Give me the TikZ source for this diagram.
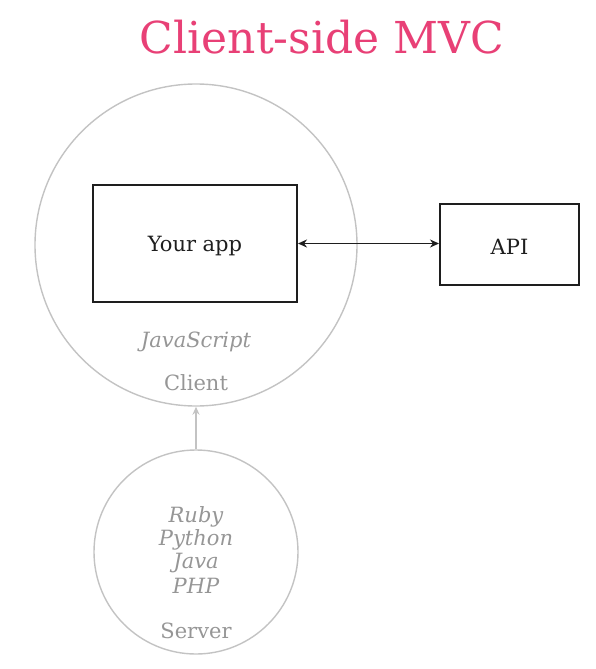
\documentclass[tikz,border=0pt]{standalone}
\usepackage{fontspec}
\setmainfont{DejaVu Serif}
\usetikzlibrary{arrows.meta}
\definecolor{pink}{RGB}{232,64,118}
\definecolor{ringgray}{RGB}{195,195,195}
\definecolor{txtgray}{RGB}{150,150,150}
\definecolor{ink}{RGB}{30,30,30}
\tikzset{
  ring/.style={circle,draw=ringgray,line width=1.4pt,inner sep=0pt},
  appbox/.style={draw=ink,line width=2pt,inner sep=0pt},
  lbl/.style={font=\fontsize{21}{24}\selectfont,text=ink},
  glbl/.style={font=\fontsize{21}{24}\selectfont,text=txtgray},
  gital/.style={font=\fontsize{21}{24}\selectfont\itshape,text=txtgray},
}
\begin{document}
\begin{tikzpicture}[x=1pt,y=-1pt]
\useasboundingbox (0,0) rectangle (596,669);
\node[font=\fontsize{44}{48}\selectfont,text=pink] (title) at (322,37) {Client-side MVC};
\node[ring,minimum size=322pt] (client) at (196,245) {};
\node[ring,minimum size=204pt] (server) at (196,552) {};
\node[appbox,minimum width=204pt,minimum height=117pt] (app) at (195,243.5) {};
\node[lbl] at ([yshift=-3pt]app.center) {Your app};
\node[appbox,minimum width=139pt,minimum height=81pt] (api) at (509.5,244.5) {};
\node[lbl] at ([yshift=-2pt]api.center) {API};
\draw[ink,line width=1.5pt,{Stealth[length=9pt,width=8pt]}-{Stealth[length=9pt,width=8pt]}] (app.east) -- (app.east -| api.west);
\node[gital] (js) at (196,342) {JavaScript};
\node[glbl] (cl) at (196,383) {Client};
\node[gital] (ruby) at (196,517) {Ruby};
\node[gital] (py) at (196,540) {Python};
\node[gital] (java) at (196,563) {Java};
\node[gital] (php) at (196,586) {PHP};
\node[glbl] (srv) at (196,631) {Server};
\draw[ringgray,line width=1.4pt,-{Stealth[length=8pt,width=7pt,open]}] (server.north) -- (client.south);
\end{tikzpicture}
\end{document}
